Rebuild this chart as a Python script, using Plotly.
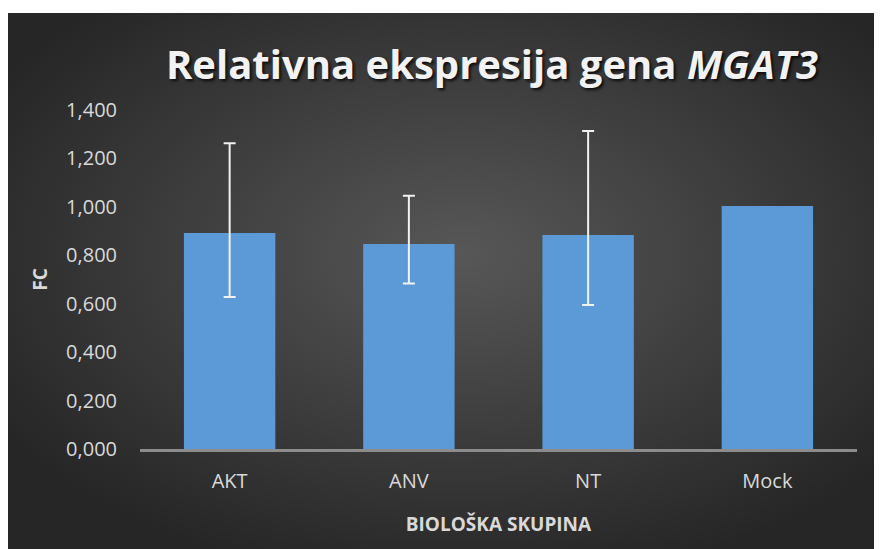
import base64
import plotly.graph_objects as go

# ---- data ----
groups = ["AKT", "ANV", "NT", "Mock"]
fc_values = [0.892, 0.847, 0.884, 1.004]
# error bars exist only for AKT, ANV, NT (Mock is the reference group)
err_plus = [0.371, 0.199, 0.429]
err_minus = [0.264, 0.164, 0.289]
y_ticks = [0.0, 0.2, 0.4, 0.6, 0.8, 1.0, 1.2, 1.4]

# ---- layout geometry (figure sits at 8px page offset) ----
W, H = 874, 541
ml, mr, mt, mb = 132, 25, 102, 100
pw, ph = W - ml - mr, H - mt - mb
top_white = 5

# ---- background gradient (svg data uri) ----
svg = (
    '<svg xmlns="http://www.w3.org/2000/svg" width="874" height="536" '
    'preserveAspectRatio="none" viewBox="0 0 874 536">'
    '<defs><radialGradient id="g" cx="52%" cy="45%" r="62%">'
    '<stop offset="0" stop-color="#575757"/>'
    '<stop offset="1" stop-color="#262626"/>'
    '</radialGradient></defs>'
    '<rect x="0" y="0" width="874" height="536" fill="url(#g)"/></svg>'
)
bg_uri = "data:image/svg+xml;base64," + base64.b64encode(svg.encode()).decode()

fig = go.Figure()
fig.add_trace(go.Bar(
    x=groups,
    y=fc_values,
    width=0.51,
    marker=dict(color="#5b9ad6", line=dict(width=0)),
    error_y=dict(
        type="data",
        symmetric=False,
        array=err_plus,
        arrayminus=err_minus,
        color="#f2f2f2",
        thickness=2,
        width=6,
    ),
    showlegend=False,
))

fig.update_layout(
    width=W,
    height=H,
    margin=dict(l=ml, r=mr, t=mt, b=mb),
    paper_bgcolor="white",
    plot_bgcolor="rgba(0,0,0,0)",
    separators=", ",
    title=dict(
        text="Relativna ekspresija gena <i>MGAT3</i>",
        x=484 / W,
        xanchor="center",
        y=1 - 57 / H,
        yanchor="middle",
        font=dict(family="Open Sans", size=40, color="#f2f2f2", weight="bold",
                  shadow="2px 2px 3px rgba(0,0,0,0.8)"),
    ),
    images=[dict(
        source=bg_uri,
        xref="paper", yref="paper",
        x=-ml / pw, y=(H - mb - top_white) / ph,
        sizex=W / pw, sizey=(H - top_white) / ph,
        xanchor="left", yanchor="top",
        sizing="stretch",
        layer="below",
    )],
    xaxis=dict(
        showgrid=False,
        showline=True,
        linecolor="#8c8c8c",
        linewidth=3,
        ticks="",
        ticklabelstandoff=12,
        tickfont=dict(family="Open Sans", size=20, color="#d9d9d9"),
        title=dict(text="<b>BIOLOŠKA SKUPINA</b>",
                   font=dict(family="Open Sans", size=19, color="#d9d9d9"),
                   standoff=25),
    ),
    yaxis=dict(
        range=[0, 1.4],
        tickvals=y_ticks,
        tickformat=".3f",
        showgrid=False,
        zeroline=False,
        showline=False,
        ticks="",
        ticklabelstandoff=22,
        tickfont=dict(family="Open Sans", size=20, color="#d9d9d9"),
        title=dict(text="<b>FC</b>",
                   font=dict(family="Open Sans", size=19, color="#d9d9d9"),
                   standoff=13),
    ),
)

fig.write_html("out.html")
